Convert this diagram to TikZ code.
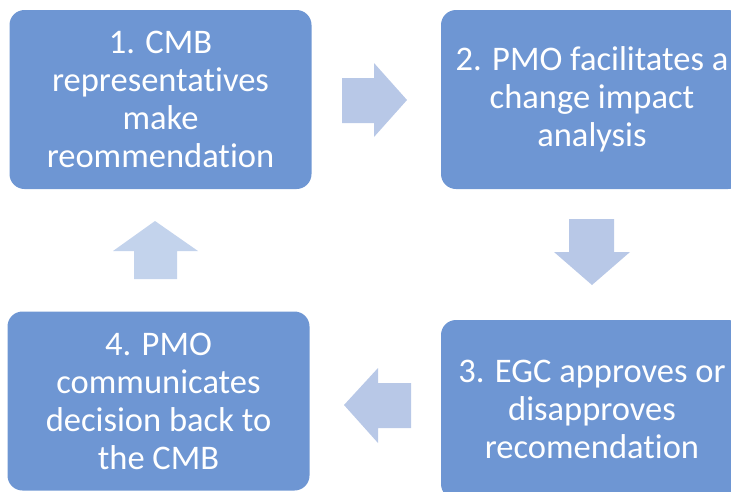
\documentclass[tikz,border=0pt]{standalone}
\usepackage{fontspec}
\setmainfont{Carlito}[Ligatures={NoCommon}]

\definecolor{boxblue}{HTML}{6E96D3}
\definecolor{arrowblue}{HTML}{B8C8E7}
\definecolor{arrowpale}{HTML}{C3D3EC}

\tikzset{
  stepbox/.style={fill=boxblue, rounded corners=15pt, minimum width=302pt,
    minimum height=179pt, inner sep=0pt, align=center, text=white,
    font=\fontsize{34.5}{38}\selectfont},
  blockarrow/.style={fill=arrowblue, draw=none},
}

\begin{document}
\begin{tikzpicture}[x=1pt,y=-1pt]
    \useasboundingbox (0,0) rectangle (731,491);

    % the four steps
    \node [stepbox] (recommend) at (160.5,99.5) {1. CMB\\representatives\\make\\reommendation};
    \node [stepbox] (analysis) at (592,99.5) {2. PMO facilitates a\\change impact\\analysis};
    \node [stepbox] (approve) at (592,409.5) {3. EGC approves or\\disapproves\\recomendation};
    \node [stepbox] (inform) at (158.5,401) {4. PMO\\communicates\\decision back to\\the CMB};

    % block arrows between the steps
    \fill [blockarrow] (342,78) -- (374,78) -- (374,63) -- (407,100) -- (374,137) -- (374,123) -- (342,123) -- cycle;
    \fill [blockarrow] (569,219) -- (614,219) -- (614,252) -- (630,252) -- (592,285) -- (554,252) -- (569,252) -- cycle;
    \fill [blockarrow] (411,383) -- (378,383) -- (378,368) -- (344,405) -- (378,443) -- (378,428) -- (411,428) -- cycle;
    \fill [blockarrow, fill=arrowpale] (134,279) -- (134,251) -- (113,251) -- (155,221) -- (198,251) -- (177,251) -- (177,279) -- cycle;

\end{tikzpicture}
\end{document}
